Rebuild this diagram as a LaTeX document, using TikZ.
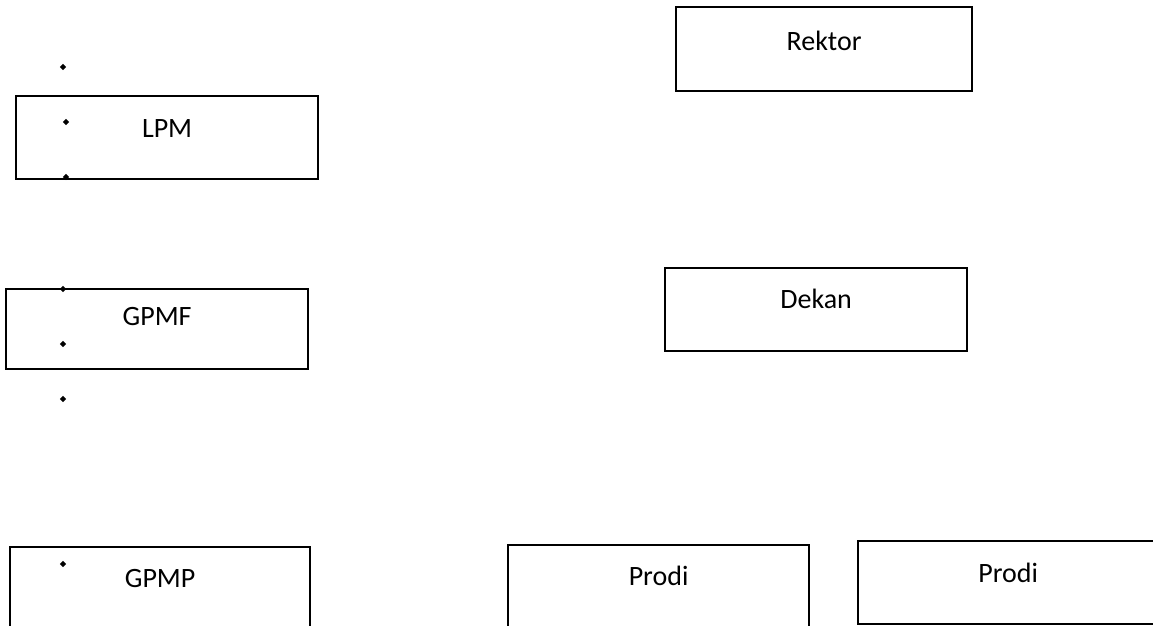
\documentclass[tikz,border=0pt]{standalone}
\usepackage{fontspec}
\setmainfont{Carlito}
\usetikzlibrary{shapes.geometric}
\tikzset{
  box/.style n args={3}{draw, line width=2.2pt, anchor=north west, inner sep=0pt,
    minimum width=#1, text height=#2, text depth=#3,
    font=\fontsize{28}{34}\selectfont},
  bullet/.style={fill, diamond, inner sep=0pt, minimum size=6.5pt}
}
\begin{document}
\begin{tikzpicture}[x=1pt, y=-1pt]
\useasboundingbox (0,0) rectangle (1153,625);
\node[box={302pt}{41.5pt}{41.5pt}] (lpm) at (15,95) {LPM};
\node[box={296pt}{43pt}{41pt}] (rektor) at (675,6) {Rektor};
\node[box={302pt}{36.5pt}{43.5pt}] (gpmf) at (5,288) {GPMF};
\node[box={302pt}{40pt}{43pt}] (dekan) at (664,267) {Dekan};
\node[box={300pt}{40pt}{43pt}] (gpmp) at (9,546) {GPMP};
\node[box={301pt}{40pt}{43pt}] (prodia) at (507,544) {Prodi};
\node[box={300pt}{41.5pt}{41.5pt}] (prodib) at (857,540) {Prodi};
\node[bullet] (d1) at (63,67) {};
\node[bullet] (d2) at (66,122) {};
\node[bullet] (d3) at (66,177) {};
\node[bullet] (d4) at (63,289) {};
\node[bullet] (d5) at (63,344) {};
\node[bullet] (d6) at (63,399) {};
\node[bullet] (d7) at (63,564) {};
\end{tikzpicture}
\end{document}
